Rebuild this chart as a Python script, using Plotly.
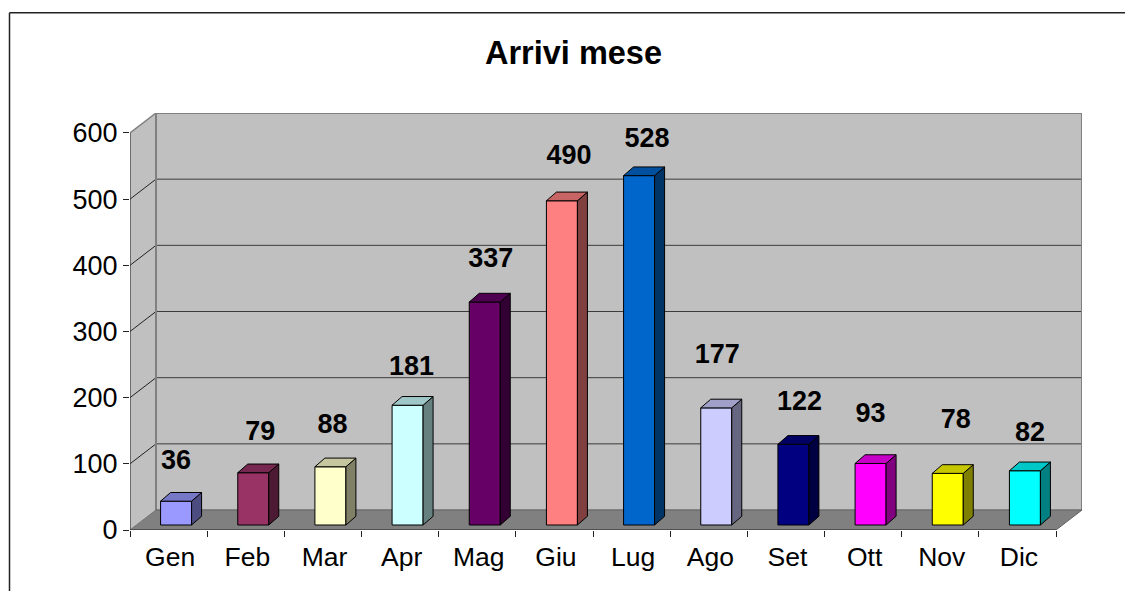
import plotly.graph_objects as go

# ---- data ----
months = ["Gen", "Feb", "Mar", "Apr", "Mag", "Giu", "Lug", "Ago", "Set", "Ott", "Nov", "Dic"]
arrivals = [36, 79, 88, 181, 337, 490, 528, 177, 122, 93, 78, 82]
y_ticks = [0, 100, 200, 300, 400, 500, 600]

# ---- styles ----
front_colors = ["#9999FF", "#993366", "#FFFFCC", "#CCFFFF", "#660066", "#FF8080",
                "#0066CC", "#CCCCFF", "#000080", "#FF00FF", "#FFFF00", "#00FFFF"]
# label placement relative to the top of the bar, in pixels (as placed in the original)
label_dx = [0, 7, 2, 4, 6, 7, 8, 1, 6, 0, 8, 5]
label_dy = [38.5, 39.5, 40.5, 37.5, 42, 44, 35, 52, 41.5, 48, 52, 37]

W, H = 1125, 591
L, R, T, B = 130, 1082, 112.7, 530
UX = (1056 - 130) / 12      # pixels per category
UY = (530 - 132.7) / 600    # pixels per unit
DEPTH_X = 26 / UX
DEPTH_Y = 20 / UY
x0, x1 = -0.5, 11.5
BAR_W = 31 / UX
BAR_SHIFT = 7.5 / UX
BAR_BASE = 5 / UY
BD_X = 10 / UX
BD_Y = 8.7 / UY
FONT = "Liberation Sans, Arial, sans-serif"


def shade(col, f):
    r, g, b = int(col[1:3], 16), int(col[3:5], 16), int(col[5:7], 16)
    return "#%02X%02X%02X" % (round(r * f), round(g * f), round(b * f))


def poly(pts, fill, line="#808080", w=0):
    path = "M " + " L ".join(f"{a} {b}" for a, b in pts) + " Z"
    return dict(type="path", path=path, xref="x", yref="y", layer="below",
                fillcolor=fill, line=dict(color=line, width=w))


def seg(a, b, c, d, color, w):
    return dict(type="line", x0=a, y0=b, x1=c, y1=d, xref="x", yref="y", layer="below",
                line=dict(color=color, width=w))


top = y_ticks[-1]
shapes = [
    poly([(x0, 0), (x0, top), (x0 + DEPTH_X, top + DEPTH_Y), (x0 + DEPTH_X, DEPTH_Y)], "#C0C0C0"),
    poly([(x0 + DEPTH_X, DEPTH_Y), (x0 + DEPTH_X, top + DEPTH_Y), (x1 + DEPTH_X, top + DEPTH_Y), (x1 + DEPTH_X, DEPTH_Y)], "#C0C0C0"),
    poly([(x0, 0), (x0 + DEPTH_X, DEPTH_Y), (x1 + DEPTH_X, DEPTH_Y), (x1, 0)], "#808080"),
]
for t in y_ticks[1:-1]:
    shapes.append(seg(x0, t, x0 + DEPTH_X, t + DEPTH_Y, "#222222", 1))
    shapes.append(seg(x0 + DEPTH_X, t + DEPTH_Y, x1 + DEPTH_X, t + DEPTH_Y, "#3C3C3C", 1))
# wall outlines
shapes += [
    seg(x0, top, x0 + DEPTH_X, top + DEPTH_Y, "#808080", 1.5),
    seg(x0 + DEPTH_X, top + DEPTH_Y, x1 + DEPTH_X, top + DEPTH_Y, "#808080", 2),
    seg(x0 + DEPTH_X, DEPTH_Y, x0 + DEPTH_X, top + DEPTH_Y, "#808080", 2),
    seg(x1 + DEPTH_X, DEPTH_Y, x1 + DEPTH_X, top + DEPTH_Y, "#808080", 2),
    seg(x0 + DEPTH_X, DEPTH_Y, x1 + DEPTH_X, DEPTH_Y, "#6E6E6E", 1.5),
    seg(x0, 0, x0 + DEPTH_X, DEPTH_Y, "#707070", 1),
    seg(x1, 0, x1 + DEPTH_X, DEPTH_Y, "#606060", 1),
    # axis lines
    seg(x0, 0, x0, top, "#333333", 1.2),
    seg(x0, 0, x1, 0, "#222222", 1.2),
]
# outer chart frame: left and top edges only
shapes += [
    dict(type="line", xref="paper", yref="paper", x0=(9.5 - L) / (R - L), x1=(W - L) / (R - L),
         y0=(B - 12.5) / (B - T), y1=(B - 12.5) / (B - T), line=dict(color="#222222", width=1.5)),
    dict(type="line", xref="paper", yref="paper", x0=(9.5 - L) / (R - L), x1=(9.5 - L) / (R - L),
         y0=(B - 12.5) / (B - T), y1=(B - H) / (B - T), line=dict(color="#222222", width=1.5)),
]

fig = go.Figure()
fig.add_trace(go.Bar(
    x=list(range(12)), y=arrivals, base=[BAR_BASE] * 12, width=BAR_W,
    offset=BAR_SHIFT - BAR_W / 2,
    marker=dict(color=front_colors, line=dict(color="#000000", width=1)),
    hovertemplate="%{customdata}: %{y}<extra></extra>", customdata=months,
))

for i, v in enumerate(arrivals):
    xl = i + BAR_SHIFT - BAR_W / 2
    xr = xl + BAR_W
    yb = BAR_BASE
    yt = BAR_BASE + v
    fig.add_trace(go.Scatter(
        x=[xr, xr, xr + BD_X, xr + BD_X, xr], y=[yb, yt, yt + BD_Y, yb + BD_Y, yb],
        mode="lines", fill="toself", fillcolor=shade(front_colors[i], 0.5),
        line=dict(color="#000000", width=1), hoverinfo="skip", showlegend=False))
    fig.add_trace(go.Scatter(
        x=[xl, xr, xr + BD_X, xl + BD_X, xl], y=[yt, yt, yt + BD_Y, yt + BD_Y, yt],
        mode="lines", fill="toself", fillcolor=shade(front_colors[i], 0.78),
        line=dict(color="#000000", width=1), hoverinfo="skip", showlegend=False))

fig.add_trace(go.Scatter(
    x=[i + BAR_SHIFT + d / UX for i, d in enumerate(label_dx)],
    y=[BAR_BASE + v + d / UY for v, d in zip(arrivals, label_dy)],
    text=[str(v) for v in arrivals], mode="text", textposition="middle center",
    textfont=dict(family=FONT, size=27, color="#000000", weight="bold"),
    hoverinfo="skip", showlegend=False, cliponaxis=False))

fig.update_layout(
    width=W, height=H,
    margin=dict(l=L, r=W - R, t=T, b=H - B, pad=0, autoexpand=False),
    paper_bgcolor="#FFFFFF", plot_bgcolor="rgba(0,0,0,0)",
    showlegend=False, shapes=shapes,
    font=dict(family=FONT, color="#000000"),
    title=dict(text="<b>Arrivi mese</b>", x=573.5 / W, xanchor="center", y=1 - 53 / H, yanchor="middle",
               font=dict(family=FONT, size=32.5, color="#000000")),
    xaxis=dict(
        automargin=False,
        range=[x0, x1 + DEPTH_X], tickmode="array", tickvals=[i + 0.02 for i in range(12)], ticktext=months,
        ticks="outside", ticklen=3, tickcolor="rgba(0,0,0,0)", tickfont=dict(size=26.5, family=FONT),
        showgrid=False, zeroline=False, showline=False,
        minor=dict(tickmode="array", tickvals=[i - 0.5 for i in range(13)], ticks="outside",
                   ticklen=6, tickcolor="#222222", tickwidth=1, showgrid=False),
    ),
    yaxis=dict(
        automargin=False,
        range=[0, top + DEPTH_Y], tickmode="array", tickvals=y_ticks, ticks="outside", ticklen=6,
        tickcolor="#222222", tickwidth=1, tickfont=dict(size=27, family=FONT),
        showgrid=False, zeroline=False, showline=False,
    ),
)
fig.write_html("out.html", config=dict(displayModeBar=False),
               post_script="document.body.style.margin='0';document.documentElement.style.overflow='hidden';")
